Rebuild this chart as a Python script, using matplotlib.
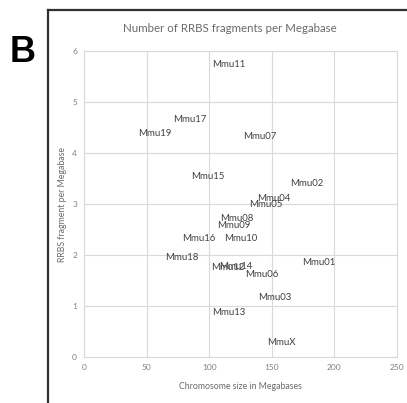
import matplotlib
matplotlib.use("Agg")
import matplotlib.pyplot as plt
from matplotlib.lines import Line2D

labels = ["Mmu11", "Mmu17", "Mmu19", "Mmu07", "Mmu15", "Mmu02", "Mmu04", "Mmu05",
          "Mmu08", "Mmu09", "Mmu16", "Mmu10", "Mmu18", "Mmu12", "Mmu14", "Mmu06",
          "Mmu01", "Mmu03", "Mmu13", "MmuX"]
size_mb = [116.0, 84.7, 56.7, 140.6, 98.6, 178.0, 152.0, 145.4,
           122.0, 120.0, 91.5, 125.4, 78.0, 114.6, 121.0, 142.0,
           187.7, 152.0, 116.0, 157.7]
frag_per_mb = [5.73, 4.66, 4.39, 4.33, 3.53, 3.41, 3.10, 3.00,
               2.72, 2.57, 2.33, 2.33, 1.96, 1.75, 1.78, 1.61,
               1.86, 1.16, 0.88, 0.29]
xticks = [0, 50, 100, 150, 200, 250]
yticks = [0, 1, 2, 3, 4, 5, 6]

W, H = 407, 403
fig = plt.figure(figsize=(W / 100, H / 100), dpi=100)
fig.patch.set_facecolor("white")
ax = fig.add_axes([84 / W, 1 - 357 / H, (397 - 84) / W, (357 - 51) / H])

font = "Lato"
grid_c = "#d9d9d9"
txt_c = "#6a6a6a"

ax.set_xlim(0, 250)
ax.set_ylim(0, 6)
ax.set_xticks(xticks)
ax.set_yticks(yticks)
ax.grid(True, color=grid_c, linewidth=0.8)
ax.set_axisbelow(True)
for s in ax.spines.values():
    s.set_color(grid_c)
    s.set_linewidth(0.8)
ax.tick_params(length=0, labelsize=6, labelcolor="#808080", pad=5)
for t in ax.get_xticklabels() + ax.get_yticklabels():
    t.set_fontfamily(font)

ax.scatter(size_mb, frag_per_mb, s=0)
for lab, x, y in zip(labels, size_mb, frag_per_mb):
    ax.text(x, y, lab, ha="center", va="center", fontsize=6.9,
            color="#404040", family=font)

ax.set_xlabel("Chromosome size in Megabases", fontsize=6.3, color=txt_c,
              family=font, labelpad=8)
ax.set_ylabel("RRBS fragment per Megabase", fontsize=6.3, color=txt_c,
              family=font, labelpad=4)

fig.text(230 / W, 1 - 29 / H, "Number of RRBS fragments per Megabase",
         ha="center", va="center", fontsize=8.3, color=txt_c, family=font)
fig.text(23 / W, 1 - 52 / H, "B", ha="center", va="center", fontsize=26,
         fontweight="bold", color="black", family="Liberation Sans")

# outer frame (top and left edges)
fig.add_artist(Line2D([47.5 / W, 1.0], [1 - 10 / H, 1 - 10 / H],
                      transform=fig.transFigure, color="#303030", linewidth=1.6))
fig.add_artist(Line2D([47.5 / W, 47.5 / W], [0.0, 1 - 10 / H],
                      transform=fig.transFigure, color="#303030", linewidth=1.6))

fig.savefig("out.png", dpi=100)
